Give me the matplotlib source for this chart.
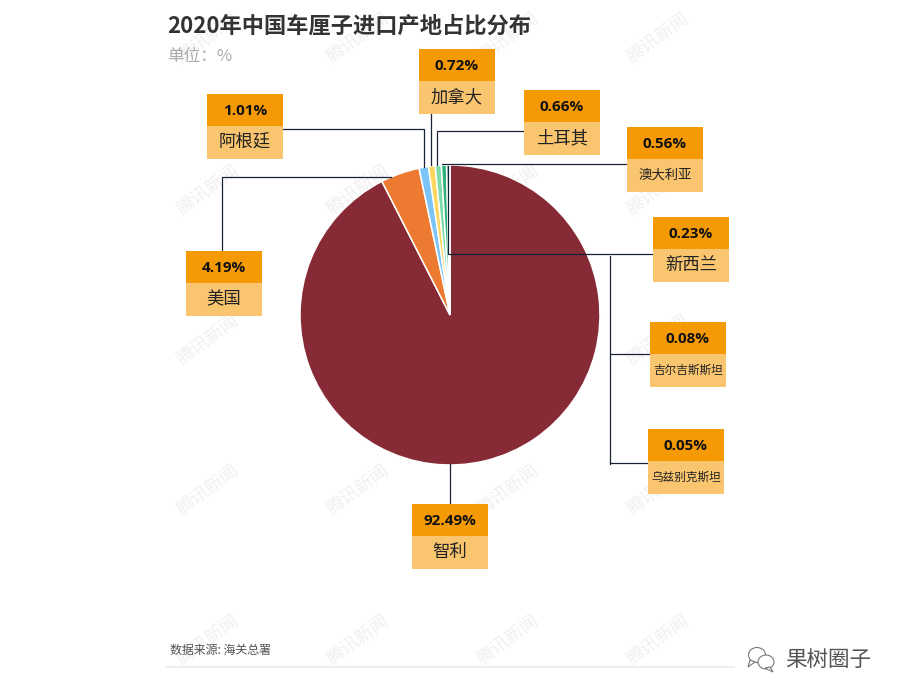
import matplotlib
matplotlib.use("Agg")
import matplotlib.pyplot as plt
from matplotlib.patches import Rectangle, Ellipse, Polygon

plt.rcParams['font.family'] = ['Noto Sans CJK SC', 'DejaVu Sans']

# ---- data ----
origins = ['智利', '美国', '阿根廷', '加拿大', '土耳其', '澳大利亚', '新西兰', '吉尔吉斯斯坦', '乌兹别克斯坦']
shares = [92.49, 4.19, 1.01, 0.72, 0.66, 0.56, 0.23, 0.08, 0.05]
title = '2020年中国车厘子进口产地占比分布'
unit = '单位：%'
source = '数据来源: 海关总署'
brand = '果树圈子'
watermark = '腾讯新闻'

# ---- styles and layout (pixels, top-left origin) ----
slice_colors = ['#862a36', '#ec7a30', '#7cc4f5', '#f9d65c', '#7ddba8', '#2fb27a', '#5c7f86', '#c9d3d6', '#e6e6e6']
box_left = dict(zip(origins, [412, 186, 207, 419, 524, 627, 653, 650, 648]))
box_top = dict(zip(origins, [504, 251, 94, 49, 90, 127, 217, 322, 429]))
name_size = dict(zip(origins, [12.5, 12.5, 12.5, 12.5, 12.5, 9.6, 12.5, 8.4, 8.4]))
leaders = [
    [(450, 464), (450, 504)],
    [(222, 251), (222, 177), (391, 177)],
    [(283, 129), (424, 129), (424, 167)],
    [(431, 114), (431, 165)],
    [(524, 131), (437, 131), (437, 165)],
    [(627, 164), (442, 164)],
    [(653, 254), (448, 254), (448, 166)],
    [(650, 354), (611, 354)],
    [(648, 463), (610, 463)],
    [(610, 256), (610, 464)],
]
wm_x = [208, 358, 508, 658]
wm_y = [38, 190, 340, 490, 640]

W, H = 900, 700
fig = plt.figure(figsize=(9, 7), dpi=100, facecolor='white')

# watermark layer, under the pie
bg = fig.add_axes([0, 0, 1, 1], facecolor='none', zorder=0)
bg.set_xlim(0, W)
bg.set_ylim(H, 0)
bg.axis('off')
for x in wm_x:
    for y in wm_y:
        bg.text(x, y, watermark, fontsize=13, color='#f0f0f0', rotation=36,
                ha='center', va='center')

# pie: centre (450, 315), radius 150 px
pie_ax = fig.add_axes([300 / W, (H - 465) / H, 300 / W, 300 / H], zorder=1)
pie_ax.pie(shares, colors=slice_colors, startangle=90, counterclock=False, radius=1,
           wedgeprops=dict(edgecolor='white', linewidth=1.1))
pie_ax.set_xlim(-1, 1)
pie_ax.set_ylim(-1, 1)

# overlay in pixel coordinates
ov = fig.add_axes([0, 0, 1, 1], facecolor='none', zorder=2)
ov.set_xlim(0, W)
ov.set_ylim(H, 0)
ov.axis('off')

ov.text(167, 26, title, fontsize=16, fontweight='bold', color='#333333', ha='left', va='center')
ov.text(167, 57, unit, fontsize=12, color='#aaaaaa', ha='left', va='center')

for path in leaders:
    ov.plot([p[0] for p in path], [p[1] for p in path], color='#1a2238', lw=0.9,
            solid_joinstyle='miter', zorder=3)

for name, value in zip(origins, shares):
    x, y = box_left[name], box_top[name]
    ov.add_patch(Rectangle((x, y), 76, 32, facecolor='#f59a05', edgecolor='none', zorder=4))
    ov.add_patch(Rectangle((x, y + 32), 76, 33, facecolor='#fac56f', edgecolor='none', zorder=4))
    ov.text(x + 38, y + 17, f'{value:.2f}%', fontsize=11, fontweight='bold', color='#111111',
            ha='center', va='center', family=['Open Sans', 'DejaVu Sans'], zorder=5)
    ov.text(x + 38, y + 48, name, fontsize=name_size[name], color='#222222',
            ha='center', va='center', zorder=5)

ov.text(170, 650, source, fontsize=8.6, color='#555555', ha='left', va='center')
ov.plot([167, 750], [667, 667], color='#eeeeee', lw=1.5, zorder=2)

# brand mark
ov.add_patch(Rectangle((735, 640), 145, 36, facecolor='white', edgecolor='none', zorder=6))
ov.add_patch(Ellipse((757, 655), 17, 15, facecolor='white', edgecolor='#777777', lw=0.8, zorder=7))
ov.add_patch(Polygon([(750, 660), (748, 667), (755, 662)], facecolor='white', edgecolor='#777777', lw=0.8, zorder=7))
ov.add_patch(Ellipse((766, 662), 16, 14, facecolor='white', edgecolor='#777777', lw=0.8, zorder=8))
ov.add_patch(Polygon([(770, 667), (773, 672), (765, 668)], facecolor='white', edgecolor='#777777', lw=0.8, zorder=8))
ov.text(828, 660, brand, fontsize=15.5, color='#555555', ha='center', va='center', zorder=9)

fig.savefig('out.png', dpi=100, facecolor='white')
